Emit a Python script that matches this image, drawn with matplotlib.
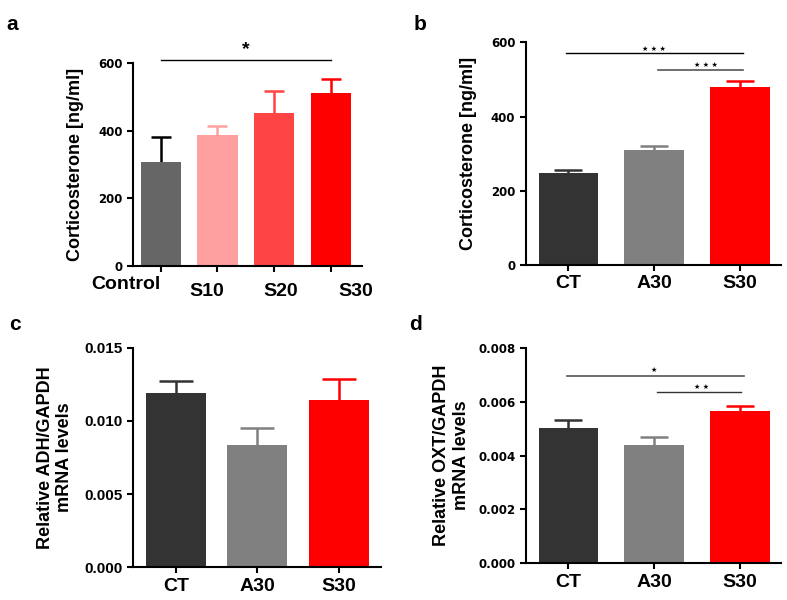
import matplotlib
matplotlib.use('Agg')
import matplotlib.pyplot as plt
import matplotlib.transforms as mtransforms
import numpy as np

plt.rcParams['font.family'] = ['Liberation Sans', 'DejaVu Sans']
plt.rcParams['font.weight'] = 'bold'

# panel a
a_groups = ['Control', 'S10', 'S20', 'S30']
a_mean = [308, 386, 451, 511]
a_err = [74, 29, 67, 42]
a_colors = ['#666666', '#ffa0a0', '#ff4444', '#ff0000']
a_ecolors = ['#000000', '#ffa0a0', '#ff4444', '#ff0000']

# panel b
b_groups = ['CT', 'A30', 'S30']
b_mean = [247, 310, 479]
b_err = [9, 11, 17]

# panel c
c_groups = ['CT', 'A30', 'S30']
c_mean = [0.01188, 0.00833, 0.01143]
c_err = [0.00087, 0.00121, 0.00143]

# panel d
d_groups = ['CT', 'A30', 'S30']
d_mean = [0.00503, 0.00438, 0.00565]
d_err = [0.00029, 0.00031, 0.00020]

ctrl_colors = ['#333333', '#808080', '#ff0000']

fig = plt.figure(figsize=(7.87, 6.0), dpi=100)


def style_axis(ax, ytick_font):
    for s in ['top', 'right']:
        ax.spines[s].set_visible(False)
    for s in ['left', 'bottom']:
        ax.spines[s].set_linewidth(1.5)
    ax.tick_params(axis='both', width=1.5, length=4)
    if ytick_font == 'small':
        for lab in ax.get_yticklabels():
            lab.set_family('DejaVu Sans')
            lab.set_fontsize(8.5)
            lab.set_weight('bold')
    else:
        for lab in ax.get_yticklabels():
            lab.set_fontsize(11)
            lab.set_weight('bold')
    for lab in ax.get_xticklabels():
        lab.set_fontsize(14)
        lab.set_weight('bold')


def bars(ax, groups, mean, err, colors, ecolors, width, capsize):
    x = np.arange(len(groups))
    ax.bar(x, mean, width=width, color=colors, zorder=2)
    for i in range(len(groups)):
        eb = ax.errorbar(x[i], mean[i], yerr=[[0], [err[i]]], fmt='none',
                         ecolor=ecolors[i], elinewidth=1.8, capsize=capsize,
                         capthick=1.8, zorder=1)
        # hide the cap sitting on top of the bar
        for cap in eb[1]:
            if np.isclose(cap.get_ydata()[0], mean[i]):
                cap.set_visible(False)
    ax.set_xticks(x)
    ax.set_xticklabels(groups)


# ---- a
ax = fig.add_axes([0.169, 0.5567, 0.291, 0.3383])
bars(ax, a_groups, a_mean, a_err, a_colors, a_ecolors, 0.71, 7)
ax.set_xlim(-0.49, 3.55)
ax.set_ylim(0, 600)
ax.set_yticks([0, 200, 400, 600])
ax.set_ylabel('Corticosterone [ng/ml]', fontsize=13, fontweight='bold', labelpad=10)
style_axis(ax, 'small')
ax.plot([0, 3], [610, 610], color='black', lw=1, clip_on=False)
ax.text(1.5, 614, '*', ha='center', va='bottom', fontsize=14, fontweight='bold')
offsets = [(-35, 0), (-11, -7), (7, -7), (25, -7)]
for lab, (dx, dy) in zip(ax.get_xticklabels(), offsets):
    lab.set_transform(lab.get_transform() +
                      mtransforms.ScaledTranslation(dx / 100, dy / 100, fig.dpi_scale_trans))
fig.text(0.008, 0.975, 'a', fontsize=15, fontweight='bold', va='top')

# ---- b
ax = fig.add_axes([0.668, 0.5583, 0.324, 0.3712])
bars(ax, b_groups, b_mean, b_err, ctrl_colors, ctrl_colors, 0.70, 10)
ax.set_xlim(-0.5, 2.48)
ax.set_ylim(0, 600)
ax.set_yticks([0, 200, 400, 600])
ax.set_ylabel('Corticosterone [ng/ml]', fontsize=13, fontweight='bold', labelpad=10)
style_axis(ax, 'small')
ax.plot([-0.03, 2.04], [570, 570], color='black', lw=1)
ax.text(1.0, 575, '★ ★ ★', family='DejaVu Sans', ha='center', va='bottom', fontsize=5)
ax.plot([1.05, 2.04], [525, 525], color='#555555', lw=1.2)
ax.text(1.6, 530, '★ ★ ★', family='DejaVu Sans', ha='center', va='bottom', fontsize=5)
fig.text(0.525, 0.975, 'b', fontsize=15, fontweight='bold', va='top')

# ---- c
ax = fig.add_axes([0.169, 0.0545, 0.315, 0.366])
bars(ax, c_groups, c_mean, c_err, ctrl_colors, ctrl_colors, 0.74, 12)
ax.set_xlim(-0.53, 2.52)
ax.set_ylim(0, 0.015)
ax.set_yticks([0, 0.005, 0.010, 0.015])
ax.set_yticklabels(['0.000', '0.005', '0.010', '0.015'])
ax.set_ylabel('Relative ADH/GAPDH\nmRNA levels', fontsize=13, fontweight='bold', labelpad=8)
style_axis(ax, 'big')
fig.text(0.012, 0.475, 'c', fontsize=15, fontweight='bold', va='top')

# ---- d
ax = fig.add_axes([0.668, 0.061, 0.324, 0.3595])
bars(ax, d_groups, d_mean, d_err, ctrl_colors, ctrl_colors, 0.70, 10)
ax.set_xlim(-0.5, 2.48)
ax.set_ylim(0, 0.008)
ax.set_yticks([0, 0.002, 0.004, 0.006, 0.008])
ax.set_yticklabels(['0.000', '0.002', '0.004', '0.006', '0.008'])
ax.set_ylabel('Relative OXT/GAPDH\nmRNA levels', fontsize=13, fontweight='bold', labelpad=6)
style_axis(ax, 'small')
ax.plot([-0.02, 2.05], [0.00695, 0.00695], color='#555555', lw=1.2)
ax.text(1.0, 0.00705, '★', family='DejaVu Sans', ha='center', va='bottom', fontsize=5)
ax.plot([1.03, 2.02], [0.00634, 0.00634], color='#333333', lw=1)
ax.text(1.55, 0.00644, '★ ★', family='DejaVu Sans', ha='center', va='bottom', fontsize=5)
fig.text(0.52, 0.475, 'd', fontsize=15, fontweight='bold', va='top')

fig.savefig('out.png', dpi=100)
